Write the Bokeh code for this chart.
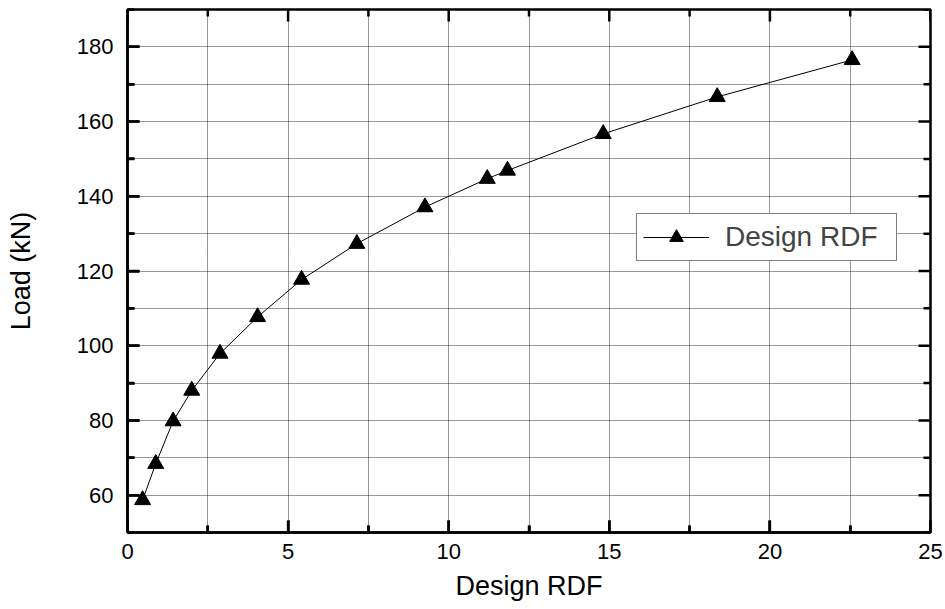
import math
from bokeh.plotting import figure
from bokeh.models import FixedTicker, Range1d, Legend, LegendItem
from bokeh.embed import file_html
from bokeh.resources import INLINE

# data
rdf = [0.47, 0.88, 1.42, 2.00, 2.88, 4.05, 5.42, 7.14, 9.26, 11.20, 11.83, 14.81, 18.36, 22.56]
load = [58.7, 68.4, 79.8, 88.0, 97.9, 107.7, 117.7, 127.3, 137.1, 144.7, 146.9, 156.7, 166.6, 176.5]

x_major = [0, 5, 10, 15, 20, 25]
x_minor = [2.5, 7.5, 12.5, 17.5, 22.5]
y_major = [60, 80, 100, 120, 140, 160, 180]
y_minor = [50, 70, 90, 110, 130, 150, 170, 190]
X_LIM = (0, 25)
Y_LIM = (50, 190)

FONT = "Liberation Sans"
INK = "#000000"

p = figure(width=945, height=609, x_range=Range1d(*X_LIM), y_range=Range1d(*Y_LIM),
           output_backend="svg", toolbar_location=None,
           min_border_left=127, min_border_right=15, min_border_top=9, min_border_bottom=77)
p.outline_line_color = INK
p.outline_line_width = 2.5
p.background_fill_color = "white"

for ax in (p.xaxis[0], p.yaxis[0]):
    ax.axis_line_color = INK
    ax.axis_line_width = 2.5
    ax.major_tick_in = 12
    ax.major_tick_out = 0
    ax.minor_tick_in = 7
    ax.minor_tick_out = 0
    ax.major_tick_line_color = INK
    ax.minor_tick_line_color = INK
    ax.major_tick_line_width = 2.5
    ax.minor_tick_line_width = 2.5
    ax.major_label_text_font = FONT
    ax.major_label_text_font_size = "22px"
    ax.major_label_text_color = "black"
    ax.axis_label_text_font = FONT
    ax.axis_label_text_font_style = "normal"
    ax.axis_label_text_color = "black"
    ax.axis_label_text_font_size = "27px"

xa = p.xaxis[0]
xa.ticker = FixedTicker(ticks=x_major, minor_ticks=x_minor)
xa.axis_label = "Design RDF"
xa.major_label_standoff = 11
xa.axis_label_standoff = 9

ya = p.yaxis[0]
ya.ticker = FixedTicker(ticks=y_major, minor_ticks=y_minor)
ya.axis_label = "Load (kN)"
ya.major_label_standoff = 14
ya.axis_label_standoff = 38

for g, t in ((p.xgrid[0], FixedTicker(ticks=x_major, minor_ticks=x_minor)),
             (p.ygrid[0], FixedTicker(ticks=y_major, minor_ticks=y_minor))):
    g.ticker = t
    g.grid_line_color = "black"
    g.grid_line_dash = "1 1"
    g.grid_line_width = 1
    g.grid_line_alpha = 0.8
    g.minor_grid_line_color = "black"
    g.minor_grid_line_dash = "1 1"
    g.minor_grid_line_width = 1
    g.minor_grid_line_alpha = 0.8

# inward tick marks on all four sides of the frame (screen-length rays)
def ticks(xs, ys, angle, length):
    p.ray(x=xs, y=ys, length=length, length_units="screen", angle=angle,
          line_color=INK, line_width=2.5, line_dash="solid")

for vals, ln_ in ((x_major, 12), (x_minor, 7)):
    ticks(vals, [Y_LIM[0]] * len(vals), math.pi / 2, ln_)
    ticks(vals, [Y_LIM[1]] * len(vals), -math.pi / 2, ln_)
for vals, ln_ in ((y_major, 12), (y_minor, 7)):
    ticks([X_LIM[0]] * len(vals), vals, 0, ln_)
    ticks([X_LIM[1]] * len(vals), vals, math.pi, ln_)

ln = p.line(rdf, load, line_color="black", line_width=1)
sc = p.scatter(rdf, load, marker="triangle", size=16, fill_color="black", line_color="black")

legend = Legend(items=[LegendItem(label="Design RDF", renderers=[ln, sc])],
                location=(509, 271), orientation="vertical",
                border_line_color="black", border_line_width=1,
                background_fill_color="white", background_fill_alpha=1,
                label_text_font=FONT, label_text_font_size="28px",
                glyph_width=66, glyph_height=34, label_standoff=16, label_width=165,
                padding=6, margin=0, spacing=0)
p.add_layout(legend, "center")

open("out.html", "w").write(file_html(p, INLINE))
